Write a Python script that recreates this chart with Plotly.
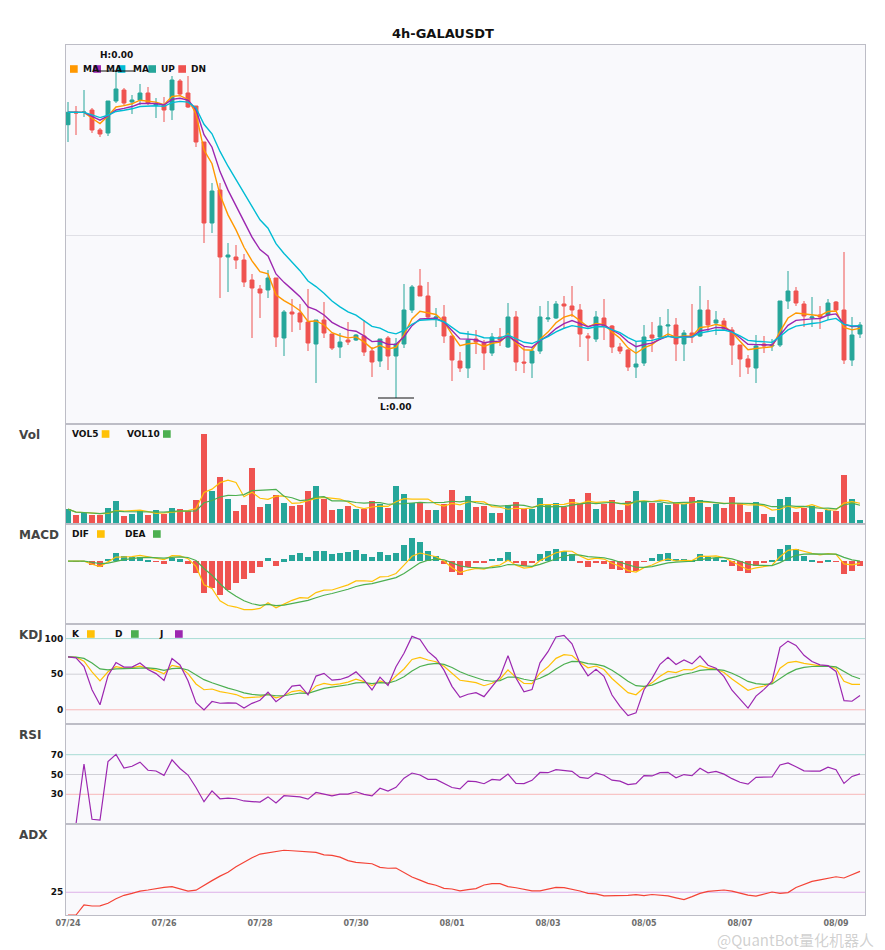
import numpy as np
import pandas as pd
import plotly.graph_objects as go
from plotly.subplots import make_subplots

# 4h candles, 07/24 00:00 onwards
opens = [0.03753, 0.03880, 0.03875, 0.03900, 0.03700, 0.03670, 0.03990, 0.04100, 0.03980, 0.04000,
         0.04070, 0.03950, 0.03950, 0.03900, 0.04190, 0.04070, 0.03940, 0.03580, 0.02770, 0.03100,
         0.02430, 0.02430, 0.02400, 0.02200, 0.02110, 0.02100, 0.02220, 0.01620, 0.01880, 0.01870,
         0.01780, 0.01560, 0.01800, 0.01660, 0.01530, 0.01600, 0.01600, 0.01640, 0.01490, 0.01390,
         0.01620, 0.01440, 0.01560, 0.01900, 0.02140, 0.02040, 0.01820, 0.01830, 0.01640, 0.01390,
         0.01320, 0.01610, 0.01570, 0.01470, 0.01630, 0.01530, 0.01830, 0.01380, 0.01370, 0.01490,
         0.01810, 0.01820, 0.01960, 0.01940, 0.01900, 0.01640, 0.01610, 0.01820, 0.01740, 0.01530,
         0.01500, 0.01330, 0.01370, 0.01650, 0.01630, 0.01740, 0.01750, 0.01560, 0.01670, 0.01640,
         0.01900, 0.01770, 0.01790, 0.01700, 0.01550, 0.01410, 0.01320, 0.01560, 0.01540, 0.01550,
         0.01990, 0.02090, 0.01960, 0.01820, 0.01850, 0.01850, 0.01980, 0.01900, 0.01400, 0.01660]
highs = [0.03980, 0.03940, 0.04100, 0.03920, 0.03720, 0.03990, 0.04290, 0.04120, 0.04050, 0.04160,
         0.04130, 0.04020, 0.04030, 0.04240, 0.04210, 0.04240, 0.03940, 0.03580, 0.03170, 0.03170,
         0.02570, 0.02550, 0.02460, 0.02260, 0.02150, 0.02300, 0.02220, 0.01900, 0.02010, 0.01960,
         0.02110, 0.01800, 0.01980, 0.01660, 0.01670, 0.01780, 0.01660, 0.01800, 0.01530, 0.01610,
         0.01640, 0.01620, 0.02160, 0.02150, 0.02310, 0.02180, 0.01920, 0.01950, 0.01640, 0.01480,
         0.01690, 0.01700, 0.01600, 0.01670, 0.01720, 0.01970, 0.01890, 0.01530, 0.01530, 0.01940,
         0.01990, 0.01990, 0.02040, 0.02140, 0.01960, 0.01670, 0.01890, 0.02010, 0.01750, 0.01570,
         0.01510, 0.01590, 0.01750, 0.01780, 0.01830, 0.01910, 0.01820, 0.01700, 0.01960, 0.02140,
         0.02000, 0.01890, 0.01820, 0.01730, 0.01550, 0.01450, 0.01650, 0.01640, 0.01610, 0.01990,
         0.02290, 0.02130, 0.01990, 0.02030, 0.01940, 0.02010, 0.01990, 0.02480, 0.01830, 0.01780]
lows = [0.03580, 0.03650, 0.03830, 0.03670, 0.03630, 0.03640, 0.03970, 0.03940, 0.03860, 0.03950,
        0.03950, 0.03820, 0.03780, 0.03800, 0.04040, 0.03920, 0.03530, 0.02570, 0.02670, 0.02020,
        0.02080, 0.02310, 0.02130, 0.01620, 0.01820, 0.02020, 0.01530, 0.01440, 0.01680, 0.01700,
        0.01490, 0.01170, 0.01620, 0.01500, 0.01420, 0.01550, 0.01590, 0.01440, 0.01230, 0.01330,
        0.01300, 0.01020, 0.01520, 0.01870, 0.02040, 0.01820, 0.01730, 0.01570, 0.01190, 0.01280,
        0.01220, 0.01460, 0.01300, 0.01440, 0.01540, 0.01520, 0.01290, 0.01270, 0.01220, 0.01460,
        0.01780, 0.01810, 0.01710, 0.01830, 0.01530, 0.01390, 0.01580, 0.01600, 0.01470, 0.01460,
        0.01290, 0.01220, 0.01340, 0.01480, 0.01600, 0.01630, 0.01390, 0.01390, 0.01570, 0.01630,
        0.01680, 0.01650, 0.01690, 0.01350, 0.01230, 0.01260, 0.01170, 0.01470, 0.01490, 0.01530,
        0.01910, 0.01940, 0.01730, 0.01730, 0.01710, 0.01800, 0.01890, 0.01360, 0.01340, 0.01620]
closes = [0.03877, 0.03870, 0.03880, 0.03700, 0.03660, 0.03990, 0.04110, 0.03970, 0.04000, 0.04070,
          0.03970, 0.03960, 0.03900, 0.04200, 0.04060, 0.03930, 0.03580, 0.02770, 0.03090, 0.02430,
          0.02450, 0.02400, 0.02180, 0.02120, 0.02070, 0.02220, 0.01630, 0.01880, 0.01860, 0.01780,
          0.01570, 0.01800, 0.01670, 0.01520, 0.01580, 0.01580, 0.01650, 0.01480, 0.01380, 0.01610,
          0.01440, 0.01560, 0.01900, 0.02130, 0.02040, 0.01830, 0.01830, 0.01640, 0.01400, 0.01320,
          0.01600, 0.01580, 0.01470, 0.01630, 0.01600, 0.01830, 0.01380, 0.01370, 0.01490, 0.01830,
          0.01820, 0.01960, 0.01940, 0.01900, 0.01660, 0.01620, 0.01830, 0.01740, 0.01530, 0.01490,
          0.01330, 0.01360, 0.01630, 0.01620, 0.01740, 0.01750, 0.01560, 0.01670, 0.01630, 0.01900,
          0.01750, 0.01800, 0.01710, 0.01550, 0.01410, 0.01330, 0.01540, 0.01540, 0.01550, 0.01990,
          0.02090, 0.01970, 0.01840, 0.01830, 0.01830, 0.01970, 0.01900, 0.01400, 0.01650, 0.01750]
volumes = [45, 27, 32, 27, 27, 48, 68, 24, 30, 38,
           27, 41, 30, 48, 45, 38, 72, 272, 99, 143,
           75, 38, 57, 168, 50, 59, 87, 62, 54, 57,
           99, 116, 75, 42, 45, 54, 45, 45, 68, 59,
           48, 116, 92, 62, 64, 42, 42, 60, 102, 42,
           86, 50, 53, 32, 32, 56, 65, 45, 45, 80,
           57, 62, 52, 74, 62, 95, 44, 60, 71, 41,
           68, 101, 68, 62, 62, 56, 62, 60, 83, 71,
           50, 60, 47, 83, 62, 35, 65, 29, 20, 74,
           83, 35, 47, 53, 35, 41, 38, 149, 74, 11]

UP = "#26A69A"
DN = "#EF5350"

times = pd.date_range("2024-07-24 00:00", periods=len(closes), freq="4h")
df = pd.DataFrame({"open": opens, "high": highs, "low": lows, "close": closes, "vol": volumes}, index=times)

# indicators
c = df["close"]
ma5 = c.ewm(span=5, adjust=False).mean()
ma8 = c.ewm(span=8, adjust=False).mean()
ma13 = c.ewm(span=13, adjust=False).mean()
vol5 = df["vol"].rolling(5, min_periods=1).mean()
vol10 = df["vol"].rolling(10, min_periods=1).mean()

dif = c.ewm(span=5, adjust=False).mean() - c.ewm(span=13, adjust=False).mean()
dea = dif.ewm(span=5, adjust=False).mean()
hist = 2 * (dif - dea)

low9 = df["low"].rolling(9, min_periods=1).min()
high9 = df["high"].rolling(9, min_periods=1).max()
rsv = (c - low9) / (high9 - low9) * 100
k = rsv.ewm(com=2, adjust=False).mean()
d = k.ewm(com=2, adjust=False).mean()
j = 3 * k - 2 * d

delta = c.diff()
gain = delta.clip(lower=0).ewm(alpha=1 / 14).mean()
loss = (-delta.clip(upper=0)).ewm(alpha=1 / 14).mean()
rsi = 100 - 100 / (1 + gain / loss)

up_move = df["high"].diff()
down_move = -df["low"].diff()
plus_dm = pd.Series(np.where((up_move > down_move) & (up_move > 0), up_move, 0.0), index=times)
minus_dm = pd.Series(np.where((down_move > up_move) & (down_move > 0), down_move, 0.0), index=times)
prev_c = c.shift(1)
tr = pd.concat([df["high"] - df["low"], (df["high"] - prev_c).abs(), (df["low"] - prev_c).abs()], axis=1).max(axis=1)
atr = tr.rolling(8, min_periods=1).mean()
pdi = 100 * plus_dm.rolling(8, min_periods=1).mean() / atr
mdi = 100 * minus_dm.rolling(8, min_periods=1).mean() / atr
dx = (100 * (pdi - mdi).abs() / (pdi + mdi)).fillna(0)
adx = dx.ewm(alpha=1 / 9, adjust=False).mean()

bar_col = [UP if cl >= op else DN for op, cl in zip(df["open"], c)]
hist_col = [UP if v >= 0 else DN for v in hist]

fig = make_subplots(rows=6, cols=1, shared_xaxes=True, vertical_spacing=0,
                    row_heights=[379, 100, 100, 100, 100, 91])

fig.add_trace(go.Candlestick(x=times, open=df["open"], high=df["high"], low=df["low"], close=c,
                             increasing=dict(line=dict(color=UP, width=1), fillcolor=UP),
                             decreasing=dict(line=dict(color=DN, width=1), fillcolor=DN),
                             whiskerwidth=0), row=1, col=1)
for s, col in [(ma5, "#FF9800"), (ma8, "#9C27B0"), (ma13, "#00BCD4")]:
    fig.add_trace(go.Scatter(x=times, y=s, mode="lines", line=dict(color=col, width=1.4)), row=1, col=1)

bw = 3 * 3600 * 1000
fig.add_trace(go.Bar(x=times, y=df["vol"], marker=dict(color=bar_col, line=dict(width=0)), width=bw), row=2, col=1)
fig.add_trace(go.Scatter(x=times, y=vol5, mode="lines", line=dict(color="#FFC107", width=1.2)), row=2, col=1)
fig.add_trace(go.Scatter(x=times, y=vol10, mode="lines", line=dict(color="#4CAF50", width=1.2)), row=2, col=1)

fig.add_trace(go.Bar(x=times, y=hist, marker=dict(color=hist_col, line=dict(width=0)), width=bw), row=3, col=1)
fig.add_trace(go.Scatter(x=times, y=dif, mode="lines", line=dict(color="#FFC107", width=1.2)), row=3, col=1)
fig.add_trace(go.Scatter(x=times, y=dea, mode="lines", line=dict(color="#4CAF50", width=1.2)), row=3, col=1)

fig.add_trace(go.Scatter(x=times, y=k, mode="lines", line=dict(color="#FFC107", width=1.2)), row=4, col=1)
fig.add_trace(go.Scatter(x=times, y=d, mode="lines", line=dict(color="#4CAF50", width=1.2)), row=4, col=1)
fig.add_trace(go.Scatter(x=times, y=j, mode="lines", line=dict(color="#9C27B0", width=1.2)), row=4, col=1)

fig.add_trace(go.Scatter(x=times, y=rsi, mode="lines", line=dict(color="#9C27B0", width=1.2)), row=5, col=1)
fig.add_trace(go.Scatter(x=times, y=adx, mode="lines", line=dict(color="#F44336", width=1.2)), row=6, col=1)

axis_style = dict(showline=True, linecolor="#BDBDC6", linewidth=1, mirror=True, zeroline=False,
                  showgrid=False, ticks="")
t0 = times[0]
x_range = [t0 - pd.Timedelta(hours=1), t0 + pd.Timedelta(hours=398.5)]
for r in range(1, 7):
    fig.update_xaxes(axis_style, range=x_range, rangeslider_visible=False, showticklabels=(r == 6),
                     row=r, col=1)
    fig.update_yaxes(axis_style, row=r, col=1)
tick_days = pd.date_range(t0, times[-1], freq="2D")
fig.update_xaxes(tickvals=tick_days, ticktext=[f"<b>{t:%m/%d}</b>" for t in tick_days],
                 tickfont=dict(family="DejaVu Sans", size=8, color="#6E6E6E"), row=6, col=1)

fig.update_yaxes(range=[0.0076, 0.0455], showticklabels=False, showgrid=True, gridcolor="#E0E0E6",
                 tickvals=[0.0265], row=1, col=1)
fig.update_yaxes(range=[0, df["vol"].max() * 1.11], showticklabels=False, row=2, col=1)
lo = min(dif.min(), dea.min(), hist.min())
hi = max(dif.max(), dea.max(), hist.max())
pad = 0.2 * (hi - lo)
fig.update_yaxes(range=[lo - pad, hi + pad], showticklabels=False, row=3, col=1)
tick_font = dict(family="DejaVu Sans", size=9, color="#111111")
fig.update_yaxes(range=[-20, 120.5], tickvals=[0, 50, 100], ticktext=["<b>0</b>", "<b>50</b>", "<b>100</b>"],
                 tickfont=tick_font, row=4, col=1)
fig.update_yaxes(range=[0, 101], tickvals=[30, 50, 70], ticktext=["<b>30</b>", "<b>50</b>", "<b>70</b>"],
                 tickfont=tick_font, row=5, col=1)
fig.update_yaxes(range=[0, 100], tickvals=[25], ticktext=["<b>25</b>"], tickfont=tick_font, row=6, col=1)


# plot area sits at x 66..865, y 45..915 of the page
def px(x):
    return (x - 66) / 799


def py(y):
    return (915 - y) / 870


annotations = []
shapes = []

# reference levels
for row, lvl, col in [(4, 100, "#A8DCD4"), (4, 50, "#D0D0D6"), (4, 0, "#F8B8B8"),
                      (5, 70, "#A8DCD4"), (5, 50, "#D0D0D6"), (5, 30, "#F8B8B8"),
                      (6, 25, "#DDB0E8")]:
    shapes.append(dict(type="line", xref=f"x{row} domain", yref=f"y{row}", x0=0, x1=1, y0=lvl, y1=lvl,
                       line=dict(color=col, width=1), layer="below"))


def label(x, y, text, size=9, color="#111111", anchor="left"):
    annotations.append(dict(x=px(x), y=py(y), xref="paper", yref="paper", text=text, showarrow=False,
                            xanchor=anchor, yanchor="middle",
                            font=dict(family="DejaVu Sans", size=size, color=color)))


def square(x, y, color):
    shapes.append(dict(type="rect", xref="paper", yref="paper", x0=px(x), x1=px(x + 7.7),
                       y0=py(y + 3.8), y1=py(y - 3.8), fillcolor=color, line=dict(width=0)))


label(443, 34, "<b>4h-GALAUSDT</b>", size=13, anchor="center")

# main legend
for sx, tx, col, txt in [(70, 81, "#FF9800", "MA"), (93.3, 104, "#9C27B0", "MA"), (117.7, 131, "#00BCD4", "MA"),
                         (148.3, 159, UP, "UP"), (178.3, 189, DN, "DN")]:
    label(tx, 69, f"<b>{txt}</b>")
    square(sx, 69, col)

# sub panel legends
for sx, tx, col, txt, yy in [(101.7, 70, "#FFC107", "VOL5", 434), (163, 125, "#4CAF50", "VOL10", 434),
                             (97, 70, "#FFC107", "DIF", 534), (153, 123, "#4CAF50", "DEA", 534),
                             (87, 70, "#FFC107", "K", 634), (131, 113, "#4CAF50", "D", 634),
                             (175, 157, "#9C27B0", "J", 634)]:
    label(tx, yy, f"<b>{txt}</b>")
    square(sx, yy, col)

for txt, yy in [("Vol", 435), ("MACD", 535), ("KDJ", 635), ("RSI", 735), ("ADX", 835)]:
    label(17, yy, f"<b>{txt}</b>", size=12, color="#444444")

# high / low markers
hi_i = int(np.argmax(highs))
lo_i = int(np.argmin(lows))
half = pd.Timedelta(hours=9)
for idx, val, txt, ty, ya in [(hi_i, highs[hi_i], "<b>H:0.00</b>", 9, "bottom"),
                              (lo_i, lows[lo_i], "<b>L:0.00</b>", -2, "top")]:
    shapes.append(dict(type="line", xref="x", yref="y", x0=times[idx] - half, x1=times[idx] + half,
                       y0=val, y1=val, line=dict(color="#111111", width=1)))
    annotations.append(dict(x=times[idx], y=val, xref="x", yref="y", text=txt, showarrow=False,
                            yshift=ty, yanchor=ya, xanchor="center",
                            font=dict(family="DejaVu Sans", size=9, color="#111111")))

annotations.append(dict(x=px(876), y=py(939), xref="paper", yref="paper", text="@QuantBot量化机器人",
                        showarrow=False, xanchor="right", yanchor="middle",
                        font=dict(family="Noto Sans CJK SC", size=15, color="rgba(150,150,150,0.45)")))

fig.update_layout(width=885, height=950, margin=dict(l=58, r=28, t=37, b=43),
                  paper_bgcolor="white", plot_bgcolor="#F9F9FC", showlegend=False,
                  annotations=annotations, shapes=shapes, bargap=0,
                  font=dict(family="DejaVu Sans"))

fig.write_html("out.html")
